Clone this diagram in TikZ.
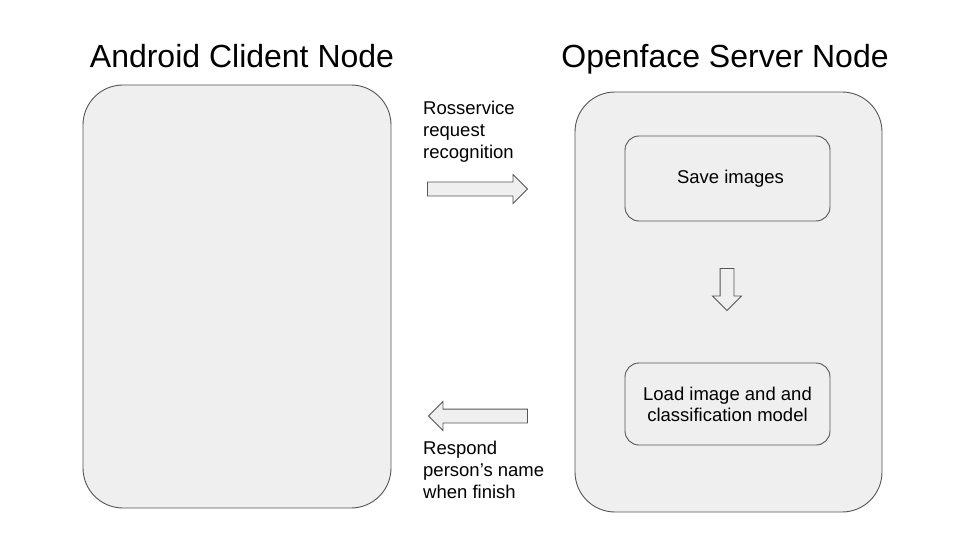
\documentclass[tikz,border=0pt]{standalone}
\usepackage{fontspec}
\setmainfont{Liberation Sans}
\usepackage{xcolor}
\usepackage{tikz}
\usetikzlibrary{shapes, arrows, positioning}
\definecolor{boxfill}{RGB}{239,239,239}
\definecolor{boxline}{RGB}{85,85,85}
\tikzset{
  titlenode/.style={anchor=base, inner sep=0pt, font=\fontsize{32}{38}\selectfont},
  sidenode/.style={draw=boxline, fill=boxfill, rectangle, rounded corners=40pt, line width=0.9pt},
  stepbox/.style={draw=boxline, fill=boxfill, rectangle, rounded corners=14pt, line width=0.9pt, minimum width=205pt, align=center, font=\fontsize{18.5}{21}\selectfont},
  labelnode/.style={anchor=north west, inner sep=0pt, align=left, font=\fontsize{18.5}{21.7}\selectfont},
  blockarrow/.style={draw=boxline, fill=boxfill, single arrow, single arrow tip angle=90, single arrow head extend=7.5pt, inner xsep=0pt, inner ysep=6.5pt, line width=0.8pt}
}
\begin{document}
\begin{tikzpicture}[x=1pt, y=-1pt]
\useasboundingbox (0,0) rectangle (960,540);

% Nodes
\node[titlenode] (TA) at (242,68) {Android Clident Node};
\node[titlenode] (TS) at (725,68) {Openface Server Node};
\node[sidenode, minimum width=308pt, minimum height=423pt] (AN) at (237,296.5) {};
\node[sidenode, minimum width=307pt, minimum height=420pt] (SN) at (728.5,302) {};
\node[stepbox, minimum height=85pt] (SI) at (727.5,178.5) {\hspace*{6pt}Save images};
\node[stepbox, minimum height=82pt] (LM) at (727.5,404) {Load image and and\\classification model};

% Arrows
\node[blockarrow, minimum height=100pt] (RQ) at (474,189) {};
\node[blockarrow, minimum height=99pt, shape border rotate=180] (RS) at (481.5,416) {};
\node[blockarrow, minimum height=42pt, rotate=-90] (DN) at (727,286) {};

% Labels
\node[labelnode] (LQ) at (423,101) {Rosservice\\request\\recognition};
\node[labelnode] (LS) at (423,441) {Respond\\person’s name\\when finish};

\end{tikzpicture}
\end{document}
